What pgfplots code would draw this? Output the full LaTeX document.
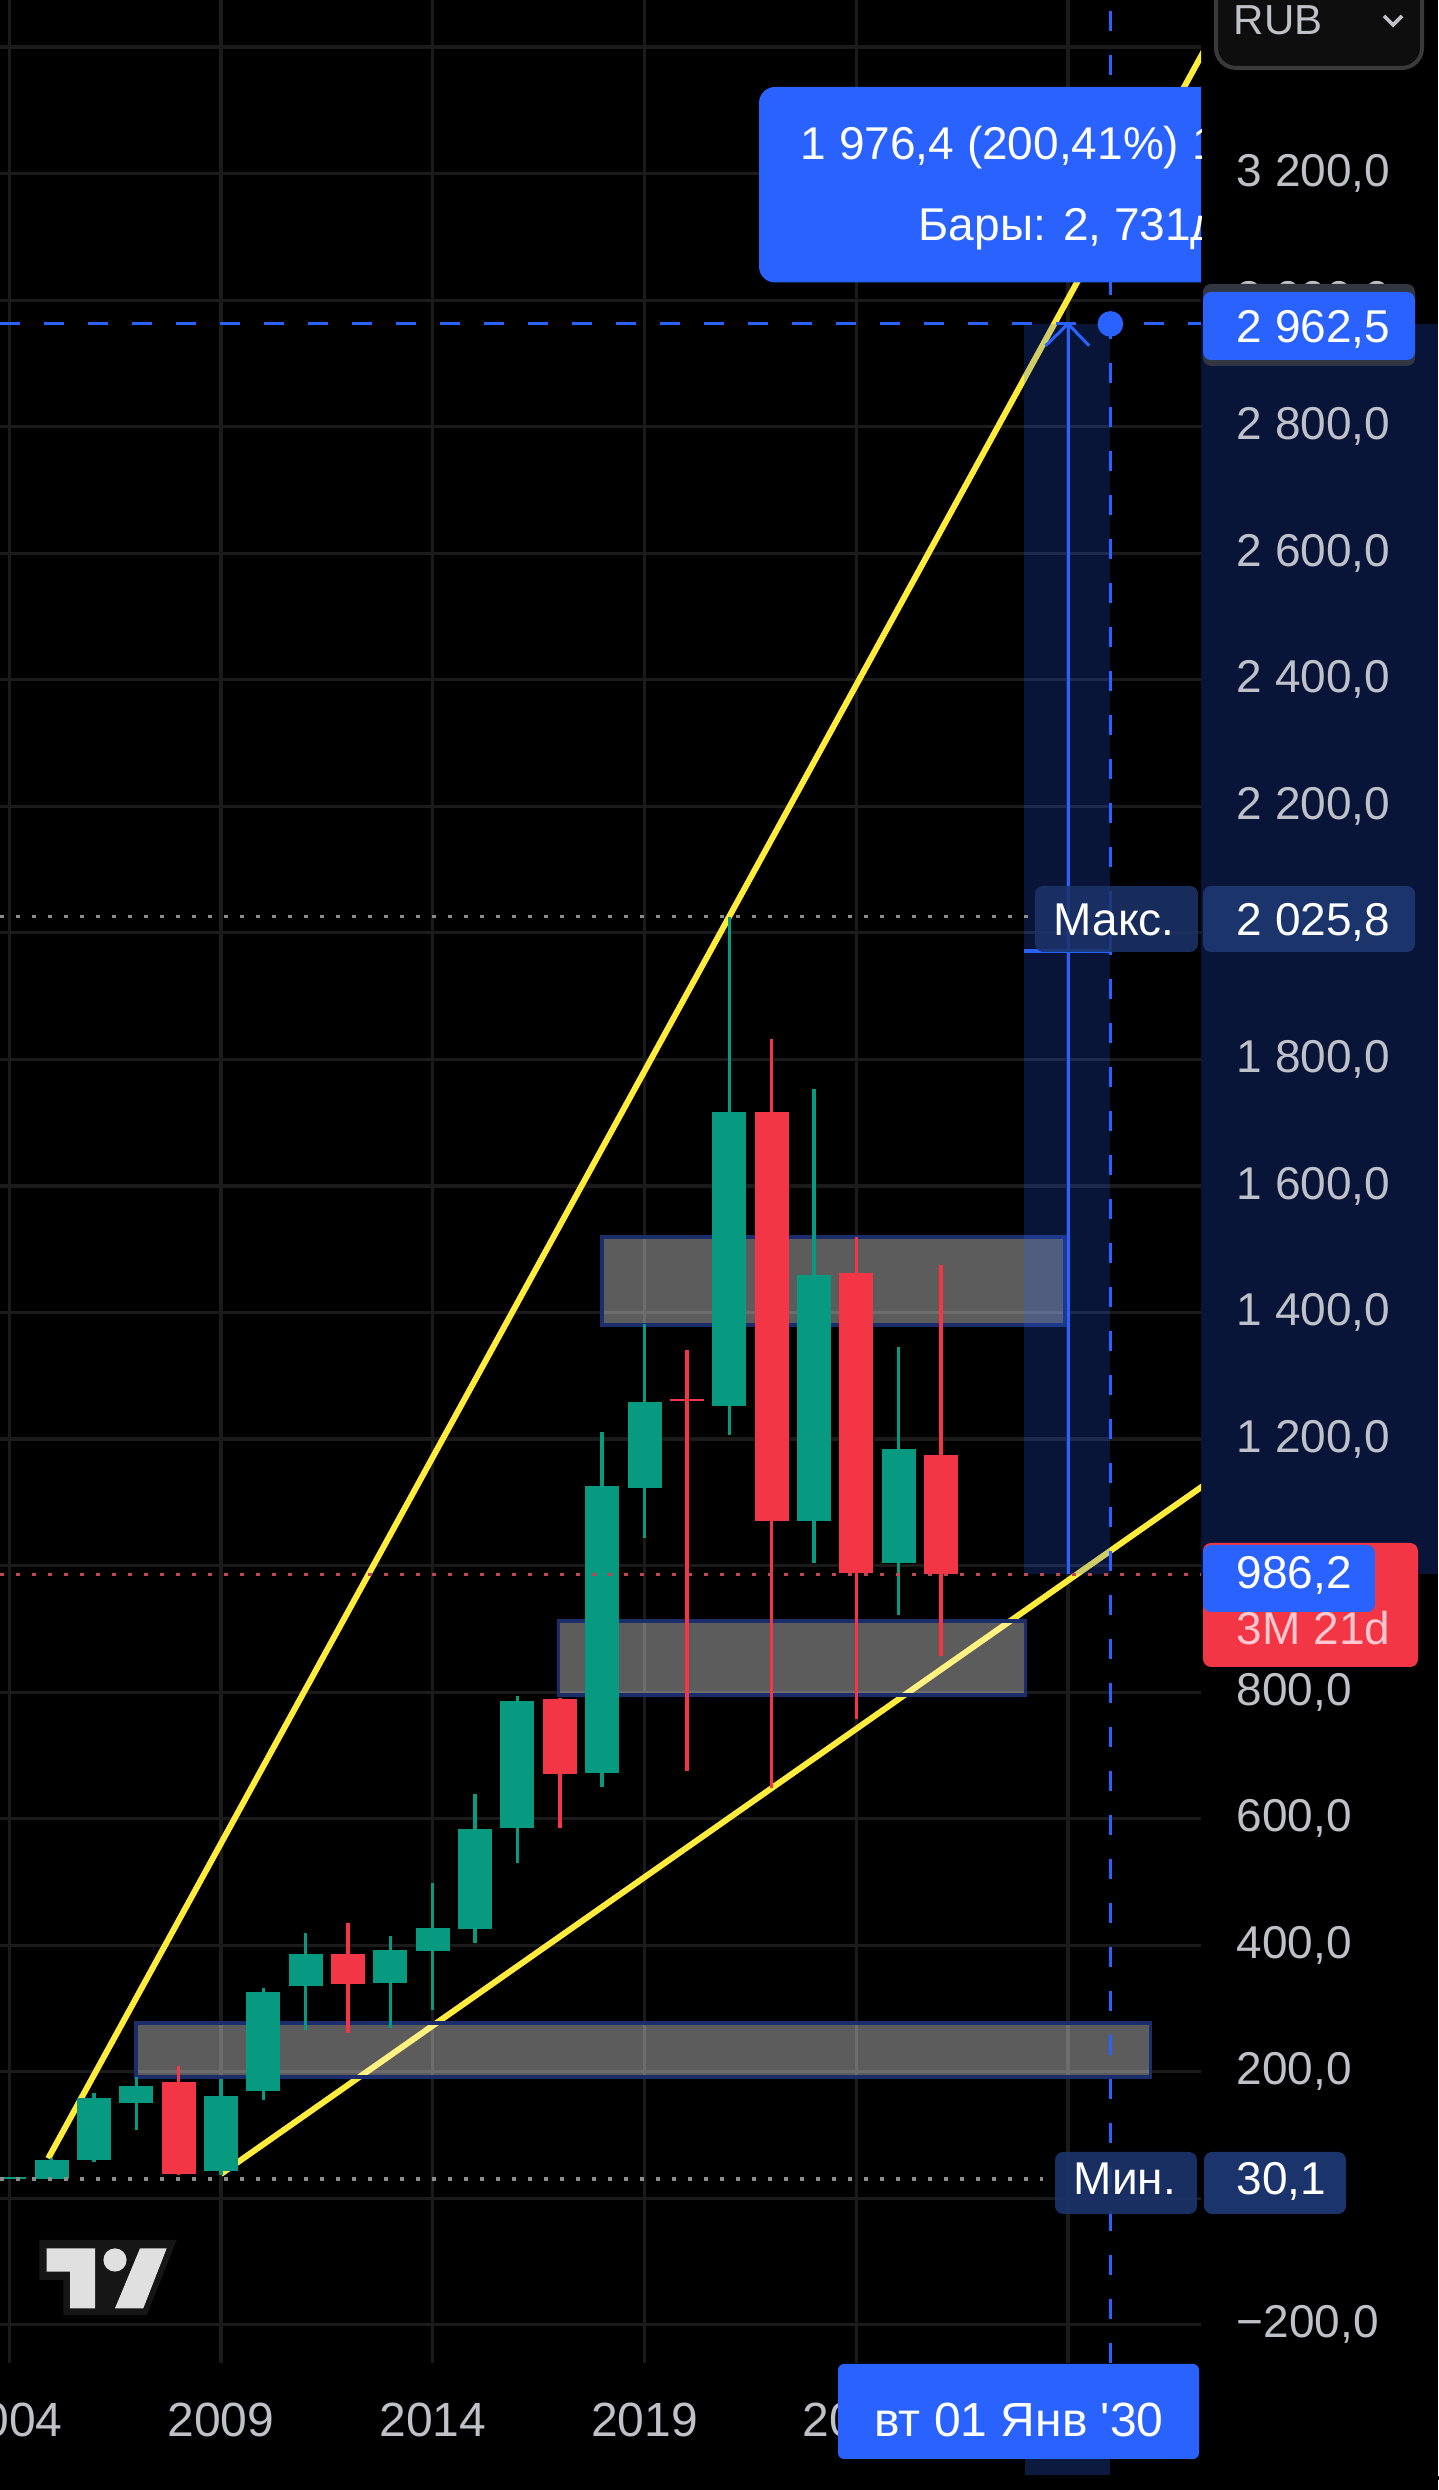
\documentclass[border=0pt]{standalone}
\usepackage{fontspec}
\setmainfont{Liberation Sans}
\usepackage{pgfplots}
\pgfplotsset{compat=1.18}
\usepackage{pgfplotstable}

\definecolor{tvup}{RGB}{8,153,129}
\definecolor{tvdown}{RGB}{242,54,69}
\definecolor{tvyel}{RGB}{255,235,59}
\definecolor{tvblue}{RGB}{41,98,255}
\definecolor{gridc}{RGB}{27,27,27}
\definecolor{ticklbl}{RGB}{190,193,200}
\definecolor{navylbl}{RGB}{28,52,108}
\definecolor{zoneedge}{RGB}{27,45,107}
\definecolor{dotgray}{RGB}{140,140,140}
\definecolor{dotred}{RGB}{190,70,85}
\definecolor{shadowc}{RGB}{50,54,64}
\definecolor{rubedge}{RGB}{58,58,58}
\definecolor{rubfill}{RGB}{14,14,14}
\definecolor{pinkt}{RGB}{255,200,207}
\definecolor{logoedge}{RGB}{22,22,22}
\definecolor{logofill}{RGB}{224,224,224}
\definecolor{baseline}{RGB}{42,42,42}
\definecolor{navydark}{RGB}{12,26,64}

\newcommand\lbl{\fontsize{11.5pt}{13pt}\selectfont}
\newcommand\xlbl{\fontsize{12pt}{14pt}\selectfont}

\pgfplotstableread{
year open high low close
2004 30.1 33.5 30.1 33
2005 31 63 30.5 60.5
2006 60 167 58 158
2007 151 192 108 177.5
2009 43.7 188 36.8 161.7
2010 170 332 156 325.6
2011 336 420 266 386
2013 340.8 414.6 269.7 392.4
2014 390.8 497.9 297.6 426.7
2015 425 638.5 404 583
2016 585.8 794 529.5 786
2018 672.7 1211 650.6 1126
2019 1123 1382 1043 1259
2021 1252 2025.8 1206 1717
2023 1071 1753 1003.6 1460
2025 1004.6 1346 922 1185
}\upc

\pgfplotstableread{
year open high low close
2008 184 209 37 38.4
2012 386 434.6 261.7 338
2017 788.7 791 584.8 670
2020 1264 1341 676 1260
2022 1717 1832 648 1071
2024 1463 1519 757 988.8
2026 1175.5 1475 857 986.2
}\downc

\begin{document}
\begin{tikzpicture}
\fill[black] (0,0) rectangle (359.5pt,622.5pt);
\begin{scope}[x=0.25pt,y=-0.25pt,shift={(0pt,622.5pt)}]
\fill[tvblue,opacity=0.22] (1201,324.4) rectangle (1438,1574.3);
\end{scope}

\begin{axis}[
  at={(0pt,31.75pt)}, anchor=south west,
  width=300.25pt, height=590.75pt, scale only axis,
  xmin=2003.782, xmax=2032.14, ymin=-260.3, ymax=3474.5,
  axis line style={draw=none},
  major tick length=0pt,
  xtick={2004,2009,2014,2019,2024,2029},
  xticklabels={2004,2009,2014,2019,2024,{}},
  ytick={-200,0,...,3400},
  yticklabels={{−200,0},{},{200,0},{400,0},{600,0},{800,0},{},{1 200,0},{1 400,0},{1 600,0},{1 800,0},{},{2 200,0},{2 400,0},{2 600,0},{2 800,0},{3 000,0},{3 200,0},{}},
  yticklabel pos=right,
  grid=major,
  major grid style={draw=gridc, line width=0.8pt},
  yticklabel style={anchor=west, inner sep=0pt, xshift=8.75pt, font=\lbl, text=ticklbl},
  xticklabel style={anchor=base, inner sep=0pt, yshift=-18.5pt, font=\xlbl, text=ticklbl},
]
% trend lines
\addplot[tvyel, line width=1.5pt] coordinates {(2004.92,63) (2032.5,3429.4)};
\addplot[tvyel, line width=1.5pt] coordinates {(2009,38.4) (2032.5,1140.6)};
% zones
\addplot[fill=white, fill opacity=0.36, draw=zoneedge, line width=0.9pt] coordinates {(2007,192) (2030.95,192) (2030.95,277) (2007,277)} --cycle;
\addplot[fill=white, fill opacity=0.36, draw=zoneedge, line width=0.9pt] coordinates {(2018,1380) (2028.93,1380) (2028.93,1519) (2018,1519)} --cycle;
\addplot[fill=white, fill opacity=0.36, draw=zoneedge, line width=0.9pt] coordinates {(2016.97,795) (2028,795) (2028,912) (2016.97,912)} --cycle;
% candles: wicks
\addplot[draw=none, mark=none, error bars/.cd, y dir=both, y explicit, error mark=none, error bar style={line width=0.85pt, draw=tvup}]
  table[x=year, y expr={(\thisrow{high}+\thisrow{low})/2}, y error expr={(\thisrow{high}-\thisrow{low})/2}] {\upc};
\addplot[draw=none, mark=none, error bars/.cd, y dir=both, y explicit, error mark=none, error bar style={line width=0.85pt, draw=tvdown}]
  table[x=year, y expr={(\thisrow{high}+\thisrow{low})/2}, y error expr={(\thisrow{high}-\thisrow{low})/2}] {\downc};
% candles: bodies
\addplot[draw=none, mark=none, error bars/.cd, y dir=both, y explicit, error mark=none, error bar style={line width=8.5pt, draw=tvup}]
  table[x=year, y expr={(\thisrow{open}+\thisrow{close})/2}, y error expr={abs(\thisrow{open}-\thisrow{close})/2}] {\upc};
\addplot[draw=none, mark=none, error bars/.cd, y dir=both, y explicit, error mark=none, error bar style={line width=8.5pt, draw=tvdown}]
  table[x=year, y expr={(\thisrow{open}+\thisrow{close})/2}, y error expr={abs(\thisrow{open}-\thisrow{close})/2}] {\downc};
% measure rectangle
\addplot[draw=none, fill=tvblue, fill opacity=0.22] coordinates {(2027.95,986.2) (2030,986.2) (2030,2962.5) (2027.95,2962.5)} --cycle;
% dotted lines
\addplot[dotgray, line width=0.9pt, dash pattern=on 0.9pt off 3.1pt] coordinates {(2003.782,2025.8) (2028.1,2025.8)};
\addplot[dotgray, line width=0.9pt, dash pattern=on 0.9pt off 3.1pt] coordinates {(2003.782,30.1) (2028.4,30.1)};
\addplot[dotred, line width=0.9pt, dash pattern=on 0.9pt off 3.1pt] coordinates {(2003.782,986.2) (2032.14,986.2)};
% crosshair
\addplot[tvblue, line width=0.75pt, dash pattern=on 5pt off 6pt] coordinates {(2003.782,2962.5) (2032.14,2962.5)};
\addplot[tvblue, line width=0.75pt, dash pattern=on 5pt off 6pt] coordinates {(2030,-260.3) (2030,3474.5)};
% measure arrow
\addplot[tvblue, line width=0.75pt] coordinates {(2029,986.2) (2029,2962.5)};
\addplot[tvblue, line width=0.75pt] coordinates {(2028.47,2928) (2029,2962.5) (2029.5,2928)};
\addplot[tvblue, line width=0.9pt] coordinates {(2027.95,1971) (2030,1971)};
\addplot[only marks, mark=*, mark size=3pt, tvblue] coordinates {(2030,2962.5)};
\end{axis}

\begin{scope}[x=0.25pt,y=-0.25pt,shift={(0pt,622.5pt)}]
% info box (clipped at plot edge)
\begin{scope}
\clip (0,0) rectangle (1201,2363);
\fill[tvblue, rounded corners=4pt] (759,87) rectangle (1260,282.5);
\node[anchor=base west, inner sep=0pt, text=white, font=\lbl] at (800,160) {1 976,4 (200,41\%) 197 640};
\node[anchor=base west, inner sep=0pt, text=white, font=\lbl] at (918,240.7) {Бары: 2, 731д};
\end{scope}
% RUB box
\draw[draw=rubedge, line width=1pt, fill=rubfill, rounded corners=5pt] (1216,-30) rectangle (1422,68);
\node[anchor=base west, inner sep=0pt, text=ticklbl, font=\fontsize{10.5pt}{12pt}\selectfont] at (1233,35) {RUB};
\draw[ticklbl, line width=0.9pt] (1384,16) -- (1393,25) -- (1402,16);
% current crosshair price
\fill[shadowc, rounded corners=2pt] (1203,284) rectangle (1415,366);
\fill[tvblue, rounded corners=2pt] (1203,292) rectangle (1415,360);
\node[anchor=base west, inner sep=0pt, text=white, font=\lbl] at (1236,342.5) {2 962,5};
% max labels
\fill[navylbl, fill opacity=0.85, rounded corners=2pt] (1035,886) rectangle (1198,952);
\fill[navylbl, rounded corners=2pt] (1203,886) rectangle (1415,952);
\node[anchor=base west, inner sep=0pt, text=white, font=\lbl] at (1053,935.5) {Макс.};
\node[anchor=base west, inner sep=0pt, text=white, font=\lbl] at (1236,935.5) {2 025,8};
% last price
\fill[tvdown, rounded corners=2pt] (1203,1543) rectangle (1418,1667);
\fill[tvblue, rounded corners=2pt] (1203,1545) rectangle (1375,1612);
\node[anchor=base west, inner sep=0pt, text=white, font=\lbl] at (1236,1589) {986,2};
\node[anchor=base west, inner sep=0pt, text=pinkt, font=\lbl] at (1236,1645) {3M 21d};
% min labels
\fill[navylbl, fill opacity=0.9, rounded corners=2pt] (1055,2152) rectangle (1197,2214);
\fill[navylbl, rounded corners=2pt] (1204,2152) rectangle (1346,2214);
\node[anchor=base west, inner sep=0pt, text=white, font=\lbl] at (1073,2195) {Мин.};
\node[anchor=base west, inner sep=0pt, text=white, font=\lbl] at (1236,2195) {30,1};
% date label
\fill[navydark] (1025,2459) rectangle (1110,2475);
\fill[tvblue, rounded corners=1.5pt] (838,2364) rectangle (1199,2459);
\node[anchor=base, inner sep=0pt, text=white, font=\xlbl] at (1019,2437) {вт 01 Янв \textquotesingle 30};
% bottom bar
\draw[baseline, line width=0.8pt, line cap=round] (3,2478) -- (1438,2478);
% logo
\fill[logoedge] (39.3,2240) -- (176.7,2240) -- (146.7,2315) -- (63.3,2315) -- (63.3,2280) -- (39.3,2280) -- cycle;
\fill[logofill] (46.7,2248.3) -- (95,2248.3) -- (95,2308.3) -- (70,2308.3) -- (70,2271.7) -- (46.7,2271.7) -- cycle;
\fill[logofill] (115,2260) circle (2.9pt);
\fill[logofill] (140,2248.3) -- (166.7,2248.3) -- (143.3,2308.3) -- (115,2308.3) -- cycle;
\end{scope}

\pgfresetboundingbox
\path[use as bounding box] (0,0) rectangle (359.5pt,622.5pt);
\end{tikzpicture}
\end{document}
